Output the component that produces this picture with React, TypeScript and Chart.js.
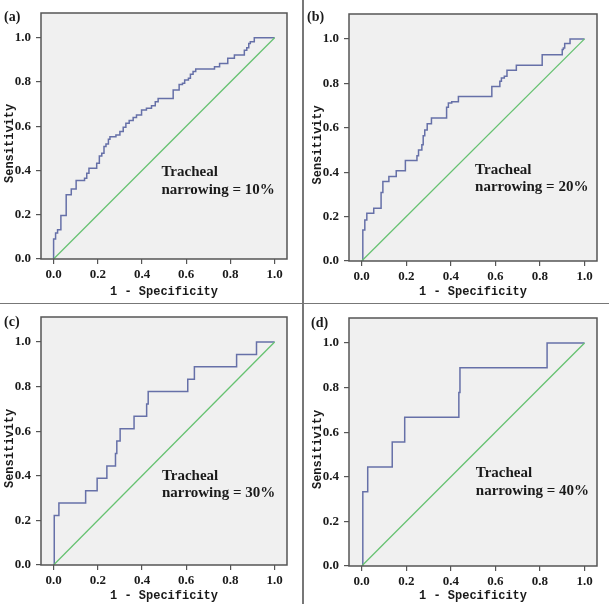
import React, { useEffect, useRef } from "react";
import { Chart, registerables } from "chart.js";

Chart.register(...registerables);

// ---------- data ----------
const tickValues = [0, 0.2, 0.4, 0.6, 0.8, 1.0];
const panelLabels = ["(a)", "(b)", "(c)", "(d)"];
const annotationLine1 = "Tracheal";
const annotationLine2 = ["narrowing = 10%", "narrowing = 20%", "narrowing = 30%", "narrowing = 40%"];
const xAxisTitle = "1 - Specificity";
const yAxisTitle = "Sensitivity";
const referenceLine = [0, 1];

// ROC points: false-positive rate (1 - specificity) where each step happens, sensitivity after the step
const fprA = [0, 0, 0.009, 0.018, 0.033, 0.057, 0.08, 0.102, 0.14, 0.15, 0.16, 0.195, 0.207, 0.218, 0.228, 0.237, 0.248, 0.255, 0.282, 0.3, 0.315, 0.327, 0.342, 0.36, 0.375, 0.398, 0.42, 0.443, 0.46, 0.473, 0.541, 0.568, 0.583, 0.593, 0.61, 0.619, 0.631, 0.643, 0.728, 0.751, 0.788, 0.818, 0.863, 0.874, 0.883, 0.89, 0.908, 1];
const tprA = [0, 0.09, 0.117, 0.132, 0.197, 0.29, 0.316, 0.355, 0.365, 0.388, 0.41, 0.433, 0.466, 0.478, 0.508, 0.52, 0.541, 0.553, 0.56, 0.576, 0.595, 0.614, 0.626, 0.64, 0.651, 0.674, 0.681, 0.693, 0.711, 0.726, 0.764, 0.789, 0.794, 0.809, 0.817, 0.835, 0.847, 0.859, 0.869, 0.884, 0.907, 0.922, 0.944, 0.955, 0.974, 0.982, 1.0, 1.0];

const fprB = [0.005, 0.005, 0.014, 0.023, 0.054, 0.087, 0.095, 0.122, 0.155, 0.196, 0.248, 0.255, 0.27, 0.276, 0.283, 0.294, 0.313, 0.381, 0.389, 0.404, 0.434, 0.584, 0.62, 0.627, 0.64, 0.652, 0.694, 0.81, 0.9, 0.905, 0.911, 0.935, 1];
const tprB = [0, 0.14, 0.185, 0.215, 0.238, 0.308, 0.358, 0.38, 0.406, 0.453, 0.474, 0.5, 0.523, 0.564, 0.59, 0.618, 0.644, 0.692, 0.711, 0.717, 0.741, 0.786, 0.809, 0.824, 0.832, 0.859, 0.881, 0.929, 0.952, 0.959, 0.979, 1.0, 1.0];

const fprC = [0.003, 0.003, 0.024, 0.145, 0.197, 0.241, 0.28, 0.286, 0.301, 0.364, 0.421, 0.428, 0.607, 0.637, 0.828, 0.918, 1];
const tprC = [0, 0.222, 0.278, 0.333, 0.389, 0.444, 0.5, 0.556, 0.611, 0.667, 0.722, 0.778, 0.833, 0.889, 0.944, 1.0, 1.0];

const fprD = [0.005, 0.005, 0.027, 0.137, 0.193, 0.436, 0.441, 0.832, 1];
const tprD = [0, 0.333, 0.444, 0.556, 0.667, 0.778, 0.889, 1.0, 1.0];

// ---------- layout / style ----------
const X_MIN = -0.057;
const X_MAX = 1.056;
const Y_MAX = 1.112;
const FRAME = "#555555";
const TEXT = "#1a1a1a";
const BLUE = "#6670a8";
const GREEN = "#66c271";
const PLOT_BG = "#f0f0f0";
const SERIF = "'Liberation Serif', 'Times New Roman', serif";
const MONO = "'Liberation Mono', 'Courier New', monospace";

type Panel = {
  left: number; top: number; width: number; height: number;
  area: { left: number; right: number; top: number; bottom: number };
  labelPos: { x: number; y: number };
  annot: { x: number; y: number };
  fpr: number[]; tpr: number[];
  label: string; line2: string;
};

const panels: Panel[] = [
  { left: 0, top: 0, width: 300, height: 300, area: { left: 41, right: 287, top: 13, bottom: 259 }, labelPos: { x: 4, y: 21 }, annot: { x: 0.488, y: 0.373 }, fpr: fprA, tpr: tprA, label: panelLabels[0], line2: annotationLine2[0] },
  { left: 300, top: 0, width: 309, height: 300, area: { left: 49, right: 297, top: 14, bottom: 261 }, labelPos: { x: 7, y: 21 }, annot: { x: 0.509, y: 0.392 }, fpr: fprB, tpr: tprB, label: panelLabels[1], line2: annotationLine2[1] },
  { left: 0, top: 300, width: 300, height: 304, area: { left: 41, right: 287, top: 17, bottom: 265 }, labelPos: { x: 4, y: 26 }, annot: { x: 0.49, y: 0.382 }, fpr: fprC, tpr: tprC, label: panelLabels[2], line2: annotationLine2[2] },
  { left: 300, top: 300, width: 309, height: 304, area: { left: 49, right: 297, top: 18, bottom: 266 }, labelPos: { x: 11, y: 27 }, annot: { x: 0.512, y: 0.398 }, fpr: fprD, tpr: tprD, label: panelLabels[3], line2: annotationLine2[3] },
];

function RocPanel({ p }: { p: Panel }) {
  const ref = useRef<HTMLCanvasElement | null>(null);
  useEffect(() => {
    if (!ref.current) return;
    const deco = {
      id: "deco",
      beforeDraw(chart: any) {
        const { ctx, chartArea: a } = chart;
        ctx.save();
        ctx.fillStyle = PLOT_BG;
        ctx.fillRect(a.left, a.top, a.right - a.left, a.bottom - a.top);
        ctx.restore();
      },
      afterDraw(chart: any) {
        const { ctx, chartArea: a, scales } = chart;
        ctx.save();
        ctx.strokeStyle = FRAME;
        ctx.lineWidth = 1.5;
        ctx.strokeRect(a.left, a.top, a.right - a.left, a.bottom - a.top);
        // y axis title
        ctx.fillStyle = TEXT;
        ctx.font = `bold 12px ${MONO}`;
        ctx.textAlign = "center";
        ctx.textBaseline = "middle";
        ctx.translate(a.left - 31.5, a.top + 0.53 * (a.bottom - a.top));
        ctx.rotate(-Math.PI / 2);
        ctx.fillText(yAxisTitle, 0, 0);
        ctx.restore();

        ctx.save();
        ctx.fillStyle = TEXT;
        ctx.textAlign = "left";
        ctx.textBaseline = "alphabetic";
        ctx.font = `bold 15px ${SERIF}`;
        const ax = scales.x.getPixelForValue(p.annot.x);
        const ay = scales.y.getPixelForValue(p.annot.y);
        ctx.fillText(annotationLine1, ax, ay);
        ctx.fillText(p.line2, ax, ay + 17.5);
        ctx.font = `bold 14px ${SERIF}`;
        ctx.fillText(p.label, p.labelPos.x, p.labelPos.y);
        ctx.restore();
      },
    };

    const tickFont = { family: SERIF, size: 13, weight: "bold" as const };
    const chart = new Chart(ref.current, {
      type: "line",
      data: {
        datasets: [
          {
            data: referenceLine.map((v) => ({ x: v, y: v })),
            borderColor: GREEN,
            borderWidth: 1.3,
            pointRadius: 0,
            fill: false,
          },
          {
            data: p.fpr.map((x, i) => ({ x, y: p.tpr[i] })),
            borderColor: BLUE,
            borderWidth: 1.5,
            pointRadius: 0,
            fill: false,
            stepped: "before",
          },
        ],
      },
      options: {
        animation: false,
        responsive: false,
        maintainAspectRatio: false,
        events: [],
        layout: { padding: { left: 0, top: p.area.top, right: p.width - p.area.right, bottom: 0 } },
        plugins: { legend: { display: false }, tooltip: { enabled: false } },
        scales: {
          x: {
            type: "linear",
            min: X_MIN,
            max: X_MAX,
            afterBuildTicks: (s: any) => { s.ticks = tickValues.map((value) => ({ value })); },
            afterFit: (s: any) => { s.height = p.height - p.area.bottom; },
            grid: { display: true, drawOnChartArea: false, drawTicks: true, tickLength: 5, color: FRAME, lineWidth: 1.2 },
            border: { display: false },
            ticks: { font: tickFont, color: TEXT, padding: 3, maxRotation: 0, autoSkip: false, callback: (v: any) => Number(v).toFixed(1) },
            title: { display: true, text: xAxisTitle, color: TEXT, font: { family: MONO, size: 12, weight: "bold" }, padding: { top: 0, bottom: 1 } },
          },
          y: {
            type: "linear",
            min: 0,
            max: Y_MAX,
            afterBuildTicks: (s: any) => { s.ticks = tickValues.map((value) => ({ value })); },
            afterFit: (s: any) => { s.width = p.area.left; },
            grid: { display: true, drawOnChartArea: false, drawTicks: true, tickLength: 5, color: FRAME, lineWidth: 1.2 },
            border: { display: false },
            ticks: { font: tickFont, color: TEXT, padding: 5, autoSkip: false, callback: (v: any) => Number(v).toFixed(1) },
          },
        },
      },
      plugins: [deco],
    } as any);
    return () => chart.destroy();
  }, [p]);

  return (
    <div style={{ position: "absolute", left: p.left, top: p.top, width: p.width, height: p.height }}>
      <canvas ref={ref} width={p.width} height={p.height} style={{ display: "block", width: p.width, height: p.height }} />
    </div>
  );
}

export default function App() {
  return (
    <div style={{ position: "absolute", left: 0, top: 0, width: 609, height: 604, background: "#ffffff", overflow: "hidden" }}>
      {panels.map((p, i) => (
        <RocPanel key={i} p={p} />
      ))}
      <div style={{ position: "absolute", left: 302, top: 0, width: 1.5, height: 604, background: "#777" }} />
      <div style={{ position: "absolute", left: 0, top: 302.5, width: 609, height: 1.5, background: "#777" }} />
    </div>
  );
}
